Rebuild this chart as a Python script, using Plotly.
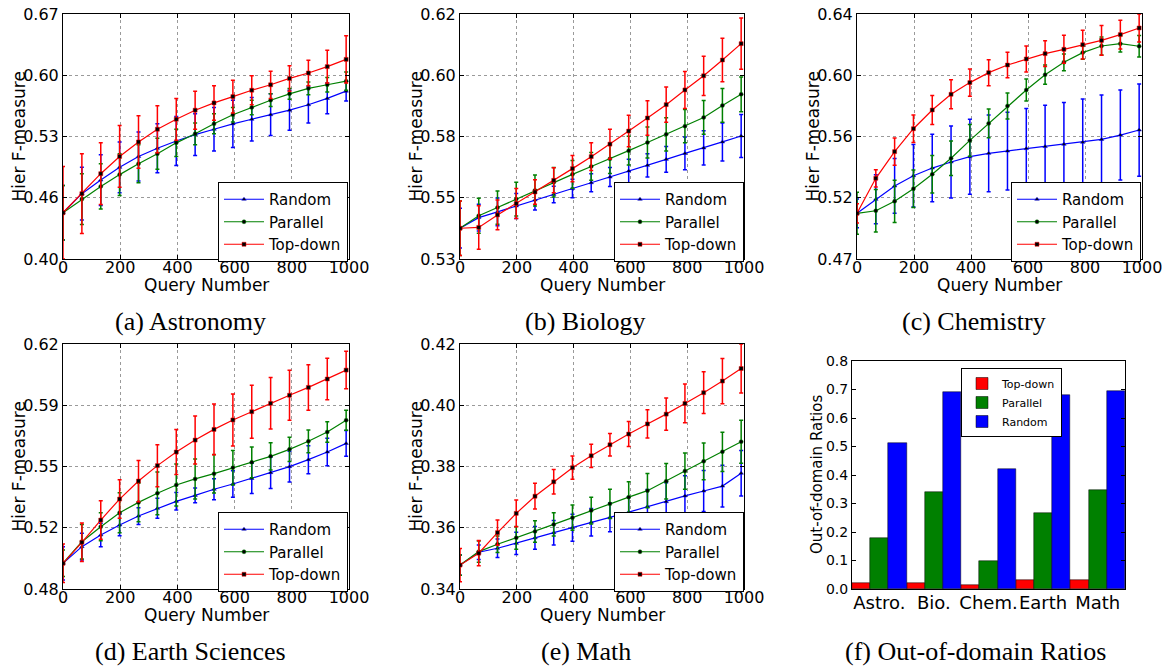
import plotly.graph_objects as go
import numpy as np

# ---------------- data ----------------
QUERIES = [0, 66, 132, 198, 264, 330, 396, 462, 528, 594, 660, 726, 792, 858, 924, 990]
SERIES = ["Random", "Parallel", "Top-down"]

ASTRO_RANDOM = [0.451, 0.472, 0.487, 0.501, 0.513, 0.522, 0.530, 0.537, 0.543, 0.549, 0.554, 0.559, 0.564, 0.570, 0.577, 0.585]
ASTRO_RANDOM_ERR = [0.030, 0.029, 0.028, 0.028, 0.027, 0.027, 0.027, 0.023, 0.024, 0.026, 0.024, 0.023, 0.022, 0.020, 0.017, 0.011]
ASTRO_PARALLEL = [0.451, 0.466, 0.480, 0.493, 0.505, 0.516, 0.528, 0.538, 0.549, 0.559, 0.567, 0.575, 0.582, 0.588, 0.592, 0.596]
ASTRO_PARALLEL_ERR = [0.030, 0.028, 0.025, 0.023, 0.021, 0.017, 0.015, 0.012, 0.011, 0.008, 0.008, 0.007, 0.006, 0.007, 0.008, 0.010]
ASTRO_TOPDOWN = [0.451, 0.472, 0.494, 0.513, 0.529, 0.543, 0.554, 0.564, 0.572, 0.579, 0.586, 0.592, 0.599, 0.605, 0.612, 0.620]
ASTRO_TOPDOWN_ERR = [0.051, 0.044, 0.034, 0.034, 0.029, 0.026, 0.023, 0.021, 0.019, 0.018, 0.016, 0.015, 0.014, 0.014, 0.018, 0.026]

BIO_RANDOM = [0.5413, 0.5452, 0.5473, 0.5495, 0.5517, 0.5537, 0.5559, 0.5580, 0.5601, 0.5623, 0.5644, 0.5666, 0.5688, 0.5708, 0.5730, 0.5752]
BIO_RANDOM_ERR = [0.0073, 0.0049, 0.0051, 0.0046, 0.0037, 0.0030, 0.0034, 0.0033, 0.0035, 0.0043, 0.0043, 0.0047, 0.0060, 0.0063, 0.0070, 0.0079]
BIO_PARALLEL = [0.5413, 0.5459, 0.5489, 0.5520, 0.5552, 0.5582, 0.5611, 0.5640, 0.5668, 0.5698, 0.5728, 0.5758, 0.5788, 0.5820, 0.5864, 0.5905]
BIO_PARALLEL_ERR = [0.0100, 0.0064, 0.0061, 0.0062, 0.0057, 0.0054, 0.0051, 0.0051, 0.0054, 0.0053, 0.0057, 0.0061, 0.0061, 0.0062, 0.0062, 0.0064]
BIO_TOPDOWN = [0.5413, 0.5416, 0.5462, 0.5504, 0.5546, 0.5589, 0.5632, 0.5676, 0.5722, 0.5770, 0.5818, 0.5867, 0.5921, 0.5973, 0.6031, 0.6091]
BIO_TOPDOWN_ERR = [0.0100, 0.0080, 0.0055, 0.0055, 0.0045, 0.0046, 0.0048, 0.0051, 0.0055, 0.0058, 0.0063, 0.0065, 0.0068, 0.0072, 0.0080, 0.0094]

CHEM_RANDOM = [0.5017, 0.5114, 0.5207, 0.5278, 0.5331, 0.5373, 0.5410, 0.5433, 0.5449, 0.5466, 0.5480, 0.5496, 0.5510, 0.5530, 0.5560, 0.5595]
CHEM_RANDOM_ERR = [0.0100, 0.0170, 0.0190, 0.0217, 0.0234, 0.0250, 0.0260, 0.0266, 0.0270, 0.0278, 0.0287, 0.0290, 0.0300, 0.0308, 0.0312, 0.0320]
CHEM_PARALLEL = [0.5017, 0.5035, 0.5100, 0.5188, 0.5288, 0.5399, 0.5523, 0.5641, 0.5762, 0.5873, 0.5979, 0.6065, 0.6132, 0.6178, 0.6194, 0.6176]
CHEM_PARALLEL_ERR = [0.0146, 0.0148, 0.0146, 0.0130, 0.0130, 0.0120, 0.0110, 0.0100, 0.0090, 0.0076, 0.0067, 0.0058, 0.0046, 0.0062, 0.0058, 0.0074]
CHEM_TOPDOWN = [0.5017, 0.5260, 0.5445, 0.5604, 0.5734, 0.5843, 0.5924, 0.5993, 0.6046, 0.6088, 0.6125, 0.6155, 0.6187, 0.6217, 0.6257, 0.6303]
CHEM_TOPDOWN_ERR = [0.0067, 0.0060, 0.0095, 0.0095, 0.0100, 0.0100, 0.0095, 0.0090, 0.0088, 0.0090, 0.0090, 0.0097, 0.0100, 0.0104, 0.0100, 0.0097]

EARTH_RANDOM = [0.4947, 0.5042, 0.5109, 0.5166, 0.5217, 0.5261, 0.5301, 0.5335, 0.5370, 0.5400, 0.5432, 0.5465, 0.5499, 0.5539, 0.5583, 0.5632]
EARTH_RANDOM_ERR = [0.0095, 0.0076, 0.0067, 0.0061, 0.0048, 0.0057, 0.0050, 0.0042, 0.0060, 0.0076, 0.0086, 0.0090, 0.0088, 0.0080, 0.0078, 0.0074]
EARTH_PARALLEL = [0.4947, 0.5070, 0.5156, 0.5236, 0.5295, 0.5347, 0.5394, 0.5429, 0.5459, 0.5493, 0.5524, 0.5558, 0.5598, 0.5644, 0.5697, 0.5764]
EARTH_PARALLEL_ERR = [0.0076, 0.0099, 0.0080, 0.0114, 0.0110, 0.0122, 0.0120, 0.0114, 0.0110, 0.0099, 0.0088, 0.0078, 0.0069, 0.0065, 0.0059, 0.0057]
EARTH_TOPDOWN = [0.4947, 0.5067, 0.5194, 0.5314, 0.5417, 0.5505, 0.5583, 0.5651, 0.5712, 0.5766, 0.5813, 0.5861, 0.5907, 0.5952, 0.6000, 0.6051]
EARTH_TOPDOWN_ERR = [0.0110, 0.0110, 0.0110, 0.0110, 0.0118, 0.0120, 0.0128, 0.0137, 0.0145, 0.0149, 0.0152, 0.0147, 0.0143, 0.0130, 0.0118, 0.0107]

MATH_RANDOM = [0.3478, 0.3520, 0.3533, 0.3549, 0.3567, 0.3584, 0.3600, 0.3618, 0.3634, 0.3651, 0.3669, 0.3685, 0.3704, 0.3720, 0.3736, 0.3778]
MATH_RANDOM_ERR = [0.0033, 0.0024, 0.0030, 0.0036, 0.0037, 0.0040, 0.0044, 0.0045, 0.0047, 0.0050, 0.0056, 0.0062, 0.0066, 0.0067, 0.0068, 0.0074]
MATH_PARALLEL = [0.3478, 0.3522, 0.3546, 0.3567, 0.3588, 0.3611, 0.3633, 0.3656, 0.3678, 0.3700, 0.3721, 0.3752, 0.3785, 0.3817, 0.3848, 0.3881]
MATH_PARALLEL_ERR = [0.0033, 0.0035, 0.0027, 0.0037, 0.0035, 0.0038, 0.0041, 0.0044, 0.0048, 0.0050, 0.0056, 0.0058, 0.0059, 0.0060, 0.0064, 0.0070]
MATH_TOPDOWN = [0.3478, 0.3517, 0.3584, 0.3647, 0.3703, 0.3750, 0.3796, 0.3835, 0.3871, 0.3906, 0.3939, 0.3971, 0.4006, 0.4041, 0.4079, 0.4120]
MATH_TOPDOWN_ERR = [0.0054, 0.0041, 0.0041, 0.0044, 0.0042, 0.0040, 0.0038, 0.0038, 0.0037, 0.0041, 0.0046, 0.0053, 0.0063, 0.0068, 0.0074, 0.0080]

DOMAINS = ["Astro.", "Bio.", "Chem.", "Earth", "Math"]
OOD_TOPDOWN = [0.021, 0.021, 0.014, 0.033, 0.032]
OOD_PARALLEL = [0.178, 0.342, 0.097, 0.267, 0.346]
OOD_RANDOM = [0.512, 0.690, 0.420, 0.682, 0.696]

X_TICKS = [0, 200, 400, 600, 800, 1000]
Y_RANGES = [(0.40, 0.67), (0.53, 0.62), (0.47, 0.64), (0.48, 0.62), (0.34, 0.42)]
Y_TICKTEXT = [
    ["0.40", "0.46", "0.53", "0.60", "0.67"],
    ["0.53", "0.55", "0.58", "0.60", "0.62"],
    ["0.47", "0.52", "0.56", "0.60", "0.64"],
    ["0.48", "0.52", "0.55", "0.59", "0.62"],
    ["0.34", "0.36", "0.38", "0.40", "0.42"],
]
OOD_TICKS = [0.0, 0.1, 0.2, 0.3, 0.4, 0.5, 0.6, 0.7, 0.8]
CAPTIONS = ["(a) Astronomy", "(b) Biology", "(c) Chemistry",
            "(d) Earth Sciences", "(e) Math", "(f) Out-of-domain Ratios"]

PANELS = [
    (ASTRO_RANDOM, ASTRO_RANDOM_ERR, ASTRO_PARALLEL, ASTRO_PARALLEL_ERR, ASTRO_TOPDOWN, ASTRO_TOPDOWN_ERR),
    (BIO_RANDOM, BIO_RANDOM_ERR, BIO_PARALLEL, BIO_PARALLEL_ERR, BIO_TOPDOWN, BIO_TOPDOWN_ERR),
    (CHEM_RANDOM, CHEM_RANDOM_ERR, CHEM_PARALLEL, CHEM_PARALLEL_ERR, CHEM_TOPDOWN, CHEM_TOPDOWN_ERR),
    (EARTH_RANDOM, EARTH_RANDOM_ERR, EARTH_PARALLEL, EARTH_PARALLEL_ERR, EARTH_TOPDOWN, EARTH_TOPDOWN_ERR),
    (MATH_RANDOM, MATH_RANDOM_ERR, MATH_PARALLEL, MATH_PARALLEL_ERR, MATH_TOPDOWN, MATH_TOPDOWN_ERR),
]

# ---------------- layout geometry (pixels) ----------------
W, H = 1172, 668
def fx(px): return px / W
def fy(py): return 1 - py / H

BOXES = [(63, 349, 14, 259), (460, 744, 14, 259), (857, 1142, 14, 259),
         (63, 349, 344, 589), (460, 744, 344, 589), (852, 1125, 361, 589)]
LEGEND_POS = [(218, 182), (614, 182), (1011, 182), (218, 512), (614, 512), (961, 368)]
YTITLE_X = [18, 415, 812, 18, 415, 817]
CAPTION_POS = [(190, 321), (585, 321), (974, 321), (190, 651), (586, 651), (975, 651)]

COLORS = {"Random": "#0000ff", "Parallel": "#008000", "Top-down": "#ff0000"}
SYMBOLS = {"Random": "triangle-up", "Parallel": "circle", "Top-down": "square"}
TICKFONT = dict(family="DejaVu Sans", size=16, color="black")
TITLEFONT = dict(family="DejaVu Sans", size=17, color="black")

fig = go.Figure()
annotations = []
layout = {}

def axis_common():
    return dict(showline=True, linecolor="black", linewidth=1, mirror="ticks",
                ticks="inside", ticklen=4, tickcolor="black", zeroline=False,
                tickfont=TICKFONT, automargin=False)

for i, pdata in enumerate(PANELS):
    n = i + 1
    sx = "" if n == 1 else str(n)
    leg = "legend" if n == 1 else f"legend{n}"
    vals = {"Random": (pdata[0], pdata[1]), "Parallel": (pdata[2], pdata[3]),
            "Top-down": (pdata[4], pdata[5])}
    for s in SERIES:
        v, e = vals[s]
        fig.add_trace(go.Scatter(
            x=QUERIES, y=v, mode="lines+markers", name=s,
            line=dict(color=COLORS[s], width=1.2),
            marker=dict(symbol=SYMBOLS[s], size=4, color="black",
                        line=dict(color=COLORS[s], width=0.5)),
            error_y=dict(type="data", array=e, visible=True, color=COLORS[s],
                         thickness=1.5, width=2),
            xaxis="x" + sx, yaxis="y" + sx, legend=leg, showlegend=True))
    x0, x1, y0, y1 = BOXES[i]
    lo, hi = Y_RANGES[i]
    xa = axis_common()
    xa.update(domain=[fx(x0), fx(x1)], anchor="y" + sx, range=[0, 1000],
              tickvals=X_TICKS, showgrid=True, gridcolor="#9a9a9a",
              griddash="dot", gridwidth=1, ticklabelstandoff=-6)
    ya = axis_common()
    ya.update(domain=[fy(y1), fy(y0)], anchor="x" + sx, range=[lo, hi],
              tickvals=list(np.linspace(lo, hi, 5)), ticktext=Y_TICKTEXT[i],
              showgrid=True, gridcolor="#9a9a9a", griddash="dot", gridwidth=1)
    layout["xaxis" + sx] = xa
    layout["yaxis" + sx] = ya
    lx, ly = LEGEND_POS[i]
    layout[leg] = dict(x=fx(lx), y=fy(ly), xanchor="left", yanchor="top",
                       bgcolor="white", bordercolor="black", borderwidth=1,
                       font=dict(family="DejaVu Sans", size=15, color="black"),
                       itemwidth=40, tracegroupgap=0)
    annotations.append(dict(text="Hier F-measure", x=fx(YTITLE_X[i]), y=fy((y0 + y1) / 2),
                            xref="paper", yref="paper", showarrow=False, textangle=-90,
                            font=TITLEFONT, xanchor="center", yanchor="middle"))
    annotations.append(dict(text="Query Number", x=fx((x0 + x1) / 2), y=fy(y1 + 26),
                            xref="paper", yref="paper", showarrow=False,
                            font=TITLEFONT, xanchor="center", yanchor="middle"))

# bar chart panel (f)
for name, vals in [("Top-down", OOD_TOPDOWN), ("Parallel", OOD_PARALLEL), ("Random", OOD_RANDOM)]:
    fig.add_trace(go.Bar(x=DOMAINS, y=vals, name=name,
                         marker=dict(color=COLORS[name], line=dict(color="black", width=0.5)),
                         xaxis="x6", yaxis="y6", legend="legend6"))
x0, x1, y0, y1 = BOXES[5]
xa = axis_common()
xa.update(domain=[fx(x0), fx(x1)], anchor="y6", type="category", range=[-0.5, 4.5],
          showgrid=False, tickfont=dict(family="DejaVu Sans", size=18, color="black"),
          ticklen=0, tickangle=0, ticklabelstandoff=-3)
ya = axis_common()
ya.update(domain=[fy(y1), fy(y0)], anchor="x6", range=[0, 0.8], tickvals=OOD_TICKS,
          tickformat=".1f", showgrid=False, tickfont=dict(family="DejaVu Sans", size=14, color="black"))
layout["xaxis6"] = xa
layout["yaxis6"] = ya
lx, ly = LEGEND_POS[5]
layout["legend6"] = dict(x=fx(lx), y=fy(ly), xanchor="left", yanchor="top",
                         bgcolor="white", bordercolor="black", borderwidth=1,
                         font=dict(family="DejaVu Sans", size=11, color="black"),
                         tracegroupgap=0)
annotations.append(dict(text="Out-of-domain Ratios", x=fx(YTITLE_X[5]), y=fy((y0 + y1) / 2),
                        xref="paper", yref="paper", showarrow=False, textangle=-90,
                        font=dict(family="DejaVu Sans", size=15, color="black"),
                        xanchor="center", yanchor="middle"))

for (cx, cy), cap in zip(CAPTION_POS, CAPTIONS):
    annotations.append(dict(text=cap, x=fx(cx), y=fy(cy), xref="paper", yref="paper",
                            showarrow=False, xanchor="center", yanchor="middle",
                            font=dict(family="Liberation Serif", size=26, color="black")))

fig.update_layout(**layout)
fig.update_layout(width=W, height=H, margin=dict(l=0, r=0, t=0, b=0),
                  paper_bgcolor="white", plot_bgcolor="white",
                  barmode="group", bargap=0, bargroupgap=0,
                  annotations=annotations, showlegend=True)
fig.write_html("out.html")
